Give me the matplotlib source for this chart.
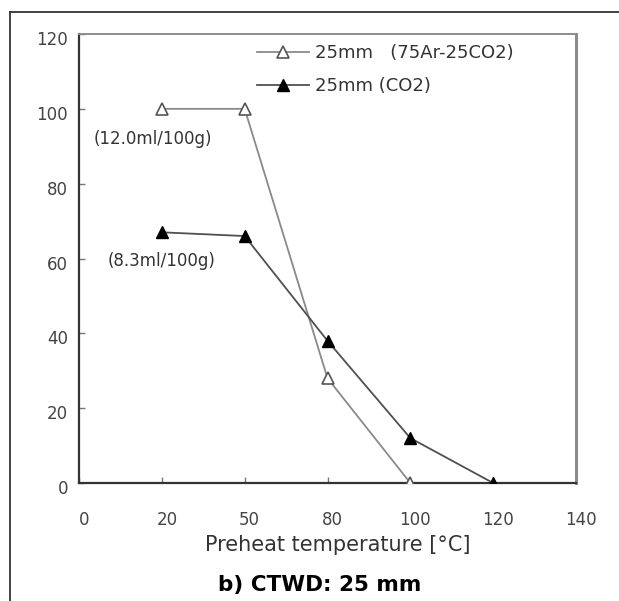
import matplotlib
matplotlib.use("Agg")
import matplotlib.pyplot as plt
import matplotlib.transforms as mtransforms
from matplotlib.lines import Line2D

# x axis is drawn as evenly spaced categories (the original figure does this)
tick_labels = ["0", "20", "50", "80", "100", "120", "140"]
y_ticks = [0, 20, 40, 60, 80, 100, 120]

temp_mix = [20, 50, 80, 100]
val_mix = [100, 100, 28, 0]

temp_co2 = [20, 50, 80, 100, 120]
val_co2 = [67, 66, 38, 12, 0]

label_mix = "25mm   (75Ar-25CO2)"
label_co2 = "25mm (CO2)"
note_mix = "(12.0ml/100g)"
note_co2 = "(8.3ml/100g)"


def to_pos(temps):
    return [tick_labels.index(str(t)) for t in temps]


W, H = 619, 601
fig = plt.figure(figsize=(W / 100, H / 100), dpi=100)
fig.patch.set_facecolor("white")
ax = fig.add_axes([79 / W, (H - 483) / H, 497 / W, 449 / H])

ax.plot(to_pos(temp_mix), val_mix, color="#8a8a8a", lw=1.3, marker="^",
        ms=8, mfc="white", mec="#555555", mew=1.2, label=label_mix, zorder=3)
ax.plot(to_pos(temp_co2), val_co2, color="#505050", lw=1.3, marker="^",
        ms=8, mfc="black", mec="black", label=label_co2, zorder=3)

ax.annotate(note_mix, (to_pos([20])[0], val_mix[0]), xytext=(-9, -30),
            textcoords="offset pixels", ha="center", va="center",
            fontsize=12, color="#333333")
ax.annotate(note_co2, (to_pos([20])[0], val_co2[0]), xytext=(0, -29),
            textcoords="offset pixels", ha="center", va="center",
            fontsize=12, color="#333333")

ax.set_xlim(0, len(tick_labels) - 1)
ax.set_ylim(0, 120)
ax.set_xticks(range(len(tick_labels)))
ax.set_xticklabels(tick_labels)
ax.set_yticks(y_ticks)
ax.set_yticklabels([str(v) for v in y_ticks])
ax.tick_params(direction="in", length=4, width=1, colors="#777777",
               labelcolor="#444444", labelsize=12)
ax.tick_params(axis="x", pad=20)
ax.tick_params(axis="y", pad=8)

dx = mtransforms.ScaledTranslation(5 / 100, 0, fig.dpi_scale_trans)
dy = mtransforms.ScaledTranslation(0, -4 / 100, fig.dpi_scale_trans)
for t in ax.get_xticklabels():
    t.set_transform(t.get_transform() + dx)
for t in ax.get_yticklabels():
    t.set_transform(t.get_transform() + dy)

ax.spines["left"].set_color("#333333")
ax.spines["bottom"].set_color("#333333")
ax.spines["left"].set_linewidth(1.6)
ax.spines["bottom"].set_linewidth(1.6)
ax.spines["top"].set_color("#8c8c8c")
ax.spines["top"].set_linewidth(1.4)
ax.spines["right"].set_color("#8c8c8c")
ax.spines["right"].set_linewidth(2.2)

ax.legend(loc="upper left", bbox_to_anchor=(257 / W, (H - 44) / H),
          bbox_transform=fig.transFigure, frameon=False, fontsize=13,
          handlelength=2.9, handletextpad=0.3, borderpad=0,
          borderaxespad=0, labelspacing=0.85, labelcolor="#333333")

fig.text(338 / W, (H - 545) / H, "Preheat temperature [°C]", ha="center",
         va="center", fontsize=15, color="#333333")
fig.text(320 / W, (H - 585) / H, "b) CTWD: 25 mm", ha="center", va="center",
         fontsize=15.5, fontweight="bold", color="black")

# frame lines of the page cut-out
fig.add_artist(Line2D([10 / W, 10 / W], [0, (H - 12) / H], color="#333333",
                      lw=1.3, transform=fig.transFigure))
fig.add_artist(Line2D([10 / W, 1], [(H - 12) / H, (H - 12) / H],
                      color="#333333", lw=1.3, transform=fig.transFigure))

fig.savefig("out.png", dpi=100, facecolor="white")
